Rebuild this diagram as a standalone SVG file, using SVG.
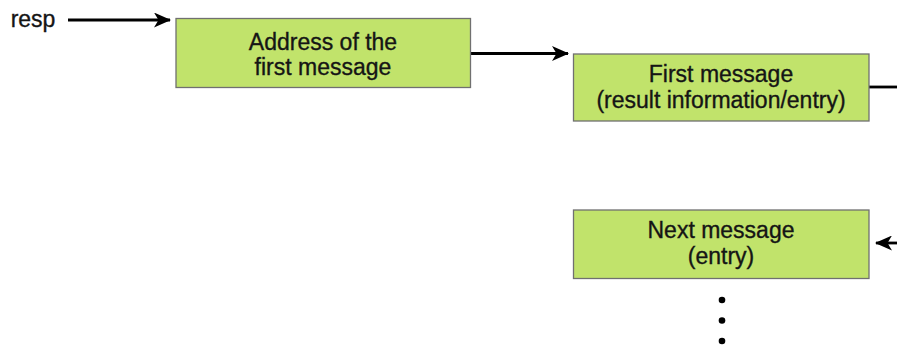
<svg xmlns="http://www.w3.org/2000/svg" width="897" height="349" viewBox="0 0 897 349">
<defs>
<style>
.box{fill:#C1E36B;stroke:#707070;stroke-width:1.3}
.lbl{font-family:"Liberation Sans",Arial,sans-serif;font-size:23px;fill:#151515;stroke:#151515;stroke-width:0.35;text-anchor:middle}
.edge{stroke:#000;stroke-width:2.8;fill:none}
.dot{fill:#000}
</style>
<marker id="ah" viewBox="0 0 17 15" refX="16" refY="7.5" markerWidth="17" markerHeight="15" markerUnits="userSpaceOnUse" orient="auto">
<path d="M0,0 L17,7.5 L0,15 L4.5,7.5 Z" fill="#000"/>
</marker>
</defs>
<rect width="897" height="349" fill="#fff"/>
<g id="connectors">
<path class="edge" d="M68,20 H170" marker-end="url(#ah)"/>
<path class="edge" d="M471,53.5 H568" marker-end="url(#ah)"/>
<path class="edge" d="M869,87 H897"/>
<path class="edge" d="M897,243 H876" marker-end="url(#ah)"/>
</g>
<g id="resp"><text class="lbl" x="33" y="27">resp</text></g>
<g id="n1">
<rect class="box" x="176" y="18.5" width="294.5" height="69"/>
<text class="lbl" x="323" y="49.5">Address of the</text>
<text class="lbl" x="323" y="74.5">first message</text>
</g>
<g id="n2">
<rect class="box" x="573.5" y="54" width="295.5" height="67"/>
<text class="lbl" x="721" y="82">First message</text>
<text class="lbl" x="721" y="108">(result information/entry)</text>
</g>
<g id="n3">
<rect class="box" x="573.5" y="210" width="295.5" height="68.5"/>
<text class="lbl" x="721" y="237.5">Next message</text>
<text class="lbl" x="721" y="263.5">(entry)</text>
</g>
<g id="dots">
<circle class="dot" cx="722" cy="300" r="3.3"/>
<circle class="dot" cx="722" cy="320.5" r="3.3"/>
<circle class="dot" cx="722" cy="341" r="3.3"/>
</g>
</svg>
